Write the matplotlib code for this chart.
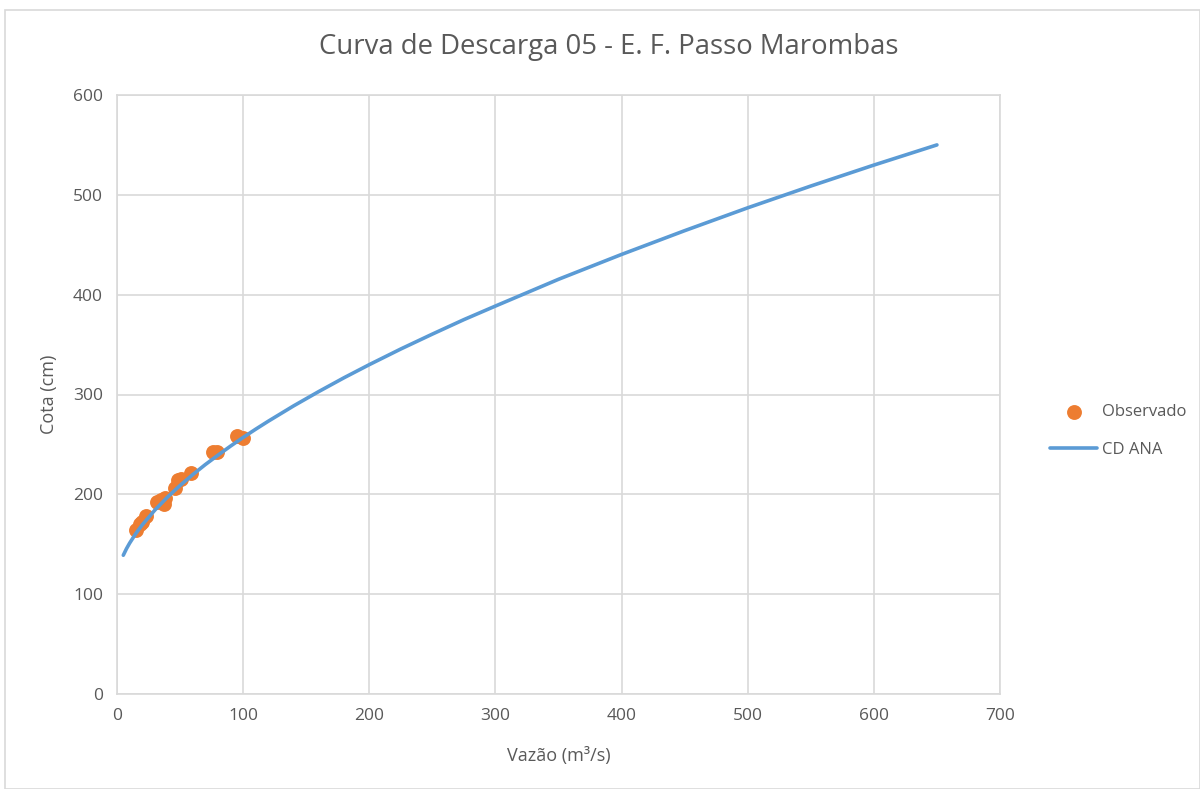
import matplotlib
matplotlib.use("Agg")
import matplotlib.pyplot as plt
from matplotlib.patches import Rectangle

# Observed gaugings
obs_q = [15, 18, 20, 23, 32, 35, 37, 38, 46, 48, 51, 59, 76, 79, 95, 100]
obs_h = [164, 170, 172, 178, 192, 194, 190, 196, 206, 214, 215, 221, 242, 242, 258, 256]

# Rating curve (CD ANA)
cd_q = [5, 7.5, 10, 15, 20, 30, 40, 50, 60, 70, 80, 90, 100, 110, 120, 140,
        160, 180, 200, 225, 250, 275, 300, 350, 400, 450, 500, 550, 600, 650]
cd_h = [139.0, 145.5, 151.1, 160.9, 169.4, 184.2, 197.2, 208.9, 219.7, 229.8,
        239.2, 248.3, 257.0, 265.3, 273.3, 288.6, 303.0, 316.8, 329.9, 345.6,
        360.5, 375.0, 388.6, 415.4, 440.3, 464.1, 487.0, 508.8, 529.8, 550.0]

x_ticks = [0, 100, 200, 300, 400, 500, 600, 700]
y_ticks = [0, 100, 200, 300, 400, 500, 600]

plt.rcParams['font.family'] = ['Open Sans', 'DejaVu Sans']
text_col = '#595959'
grid_col = '#D9D9D9'

fig = plt.figure(figsize=(12, 7.89), dpi=100)
fig.patches.append(Rectangle((5 / 1200, 0), 1 - 5 / 1200, 1 - 10 / 789,
                             transform=fig.transFigure, fill=False,
                             edgecolor='#D9D9D9', linewidth=1.2))

ax = fig.add_axes([117 / 1200, 1 - 694 / 789, 883 / 1200, 599 / 789])
ax.scatter(obs_q, obs_h, s=115, color='#ED7D31', zorder=3, label='Observado',
           linewidths=0)
ax.plot(cd_q, cd_h, color='#5B9BD5', linewidth=2.6, zorder=4, label='CD ANA',
        solid_capstyle='round')

ax.set_xlim(0, 700)
ax.set_ylim(0, 600)
ax.set_xticks(x_ticks)
ax.set_yticks(y_ticks)
ax.grid(True, color=grid_col, linewidth=1.2)
ax.set_axisbelow(True)
for s in ax.spines.values():
    s.set_color(grid_col)
    s.set_linewidth(1.2)
ax.tick_params(length=0, labelsize=12.5, colors=text_col, pad=10)

ax.set_xlabel('Vazão (m³/s)', fontsize=13, color=text_col, labelpad=17)
ax.set_ylabel('Cota (cm)', fontsize=13, color=text_col, labelpad=11)
fig.text(0.507, 1 - 47 / 789, 'Curva de Descarga 05 - E. F. Passo Marombas',
         ha='center', va='center', fontsize=19.8, color=text_col)

leg = ax.legend(loc='center left', bbox_to_anchor=(1.04, 0.439), frameon=False,
                fontsize=12, labelcolor=text_col, handlelength=2.8,
                labelspacing=1.3, handletextpad=0.3)

fig.savefig('out.png', dpi=100)
